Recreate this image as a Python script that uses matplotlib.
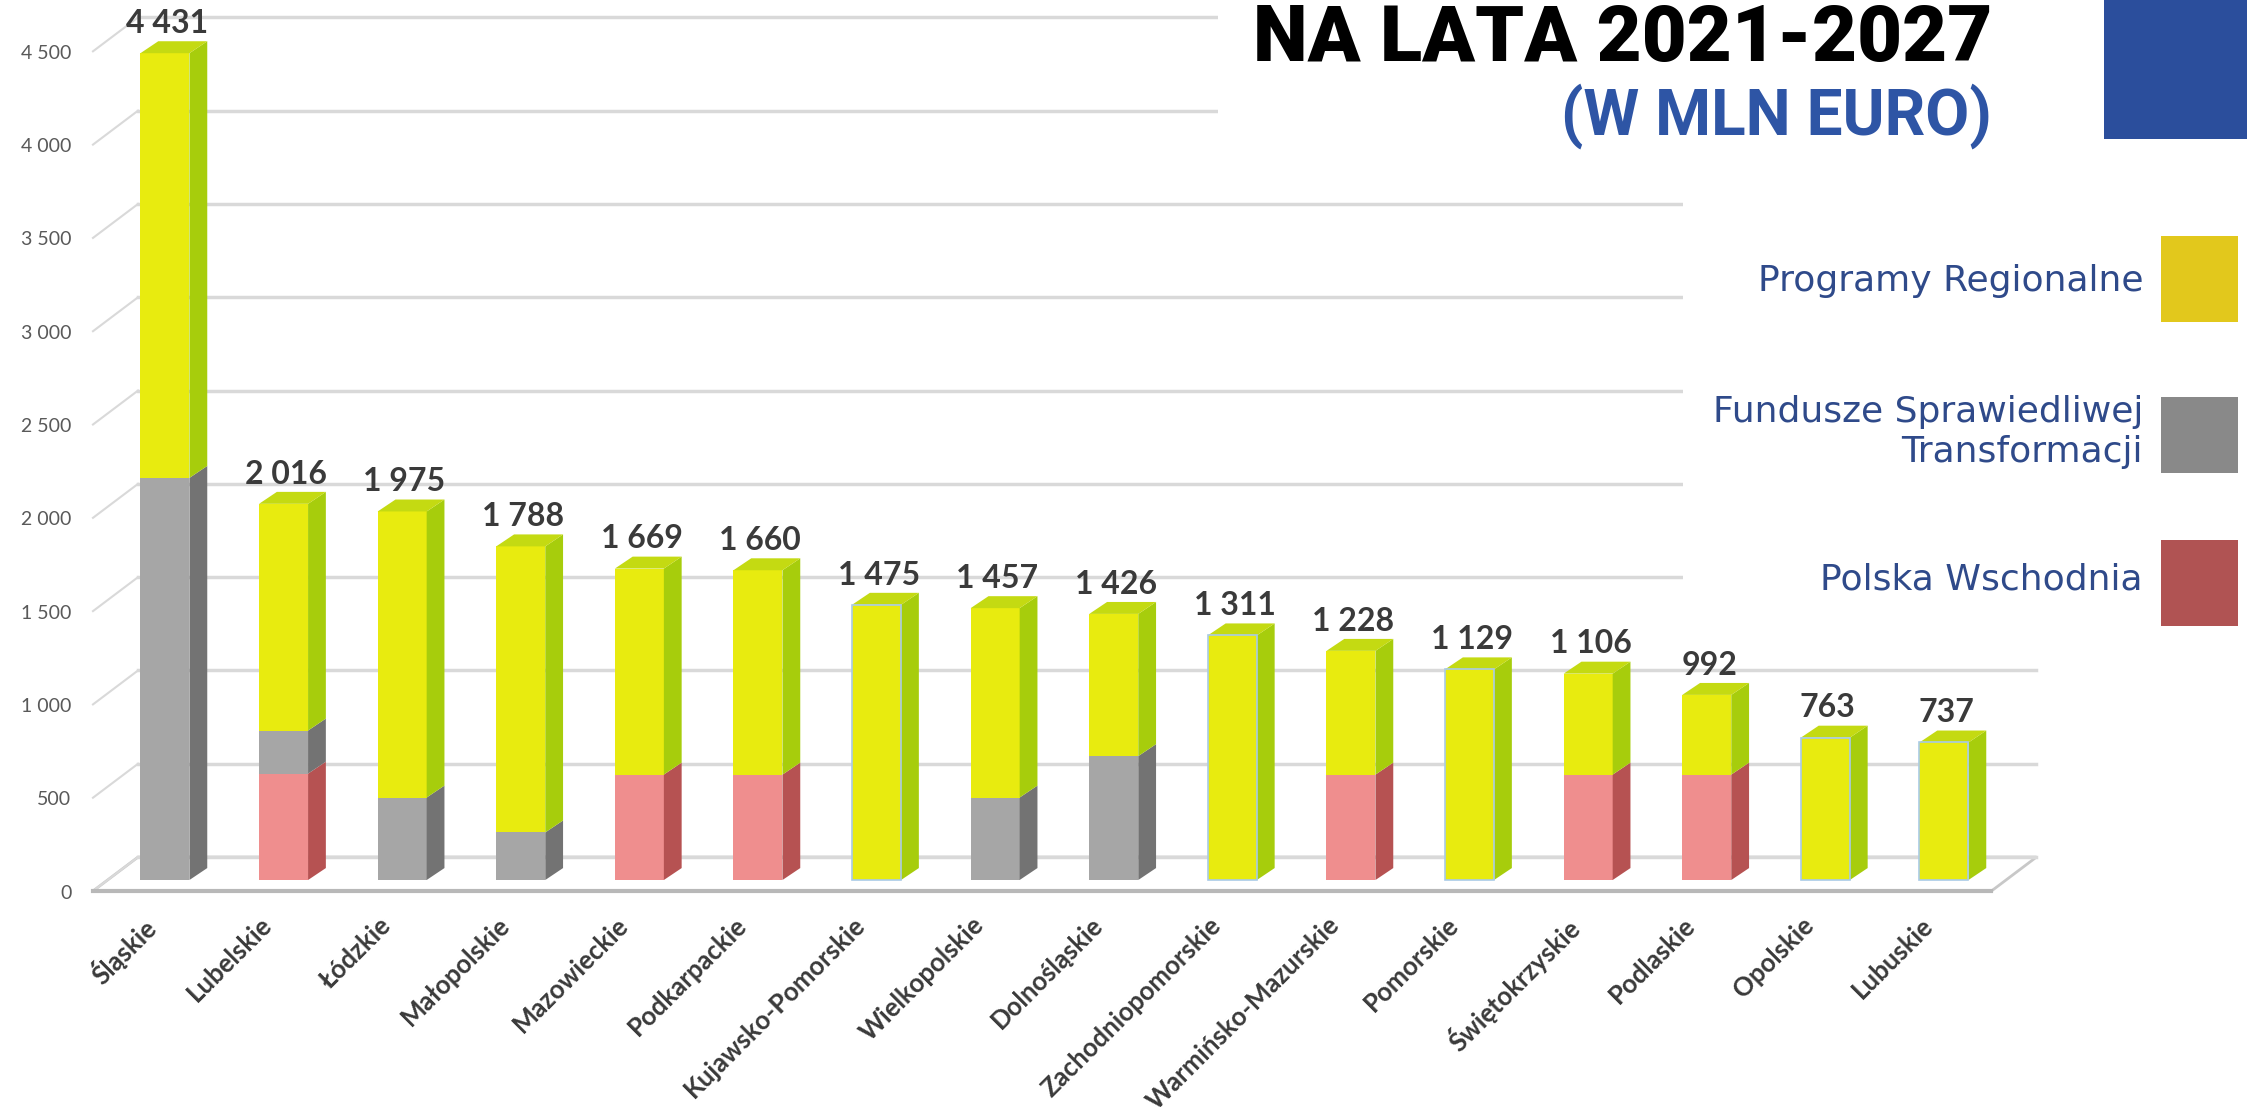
import matplotlib
matplotlib.use('Agg')
import matplotlib.pyplot as plt
from matplotlib.patches import Polygon, Rectangle
import numpy as np

regions = ['Śląskie', 'Lubelskie', 'Łódzkie', 'Małopolskie', 'Mazowieckie', 'Podkarpackie',
           'Kujawsko-Pomorskie', 'Wielkopolskie', 'Dolnośląskie', 'Zachodniopomorskie',
           'Warmińsko-Mazurskie', 'Pomorskie', 'Świętokrzyskie', 'Podlaskie', 'Opolskie', 'Lubuskie']
polska_wschodnia = [0, 570, 0, 0, 565, 565, 0, 0, 0, 0, 565, 0, 565, 565, 0, 0]
fundusze_st = [2155, 231, 442, 255, 0, 0, 0, 442, 664, 0, 0, 0, 0, 0, 0, 0]
regionalne = [2276, 1215, 1533, 1533, 1104, 1095, 1475, 1015, 762, 1311, 663, 1129, 541, 427, 763, 737]
totals = ['4 431', '2 016', '1 975', '1 788', '1 669', '1 660', '1 475', '1 457', '1 426', '1 311',
          '1 228', '1 129', '1 106', '992', '763', '737']
yticks = [0, 500, 1000, 1500, 2000, 2500, 3000, 3500, 4000, 4500]
ytick_labels = ['0', '500', '1 000', '1 500', '2 000', '2 500', '3 000', '3 500', '4 000', '4 500']

legend_names = ['Programy Regionalne', 'Fundusze Sprawiedliwej\nTransformacji', 'Polska Wschodnia']

W, H = 2247, 1107
fig = plt.figure(figsize=(W / 100, H / 100), dpi=100)
fig.patch.set_facecolor('white')
ax = fig.add_axes([0, 0, 1, 1])
ax.set_xlim(-1.391, 17.555)
ax.set_ylim(-1216.5, 4716)
ax.axis('off')

# 3d look: offsets in data units
bw = 0.413          # front face width
dx, dy = 0.15, 64   # bar depth
front_v = -59       # floor front edge
back_v = 123        # floor back edge / back wall base
label_v = -70
left_front = -0.607
right_front = 15.40
wdx = 0.38

grid_c = '#D9D9D9'
# floor
floor = Polygon([(left_front, front_v), (right_front, front_v), (right_front + wdx, back_v),
                 (left_front + wdx, back_v)], closed=True, facecolor='white',
                edgecolor='#C8C8C8', lw=2, zorder=1)
ax.add_patch(floor)
ax.plot([left_front, right_front], [front_v, front_v], color='#B8B8B8', lw=3, zorder=1.5)

# side wall + back wall gridlines
for v, lab in zip(yticks, ytick_labels):
    ax.plot([left_front, left_front + wdx], [v + front_v, v + back_v], color=grid_c, lw=1.5, zorder=1)
    ax.plot([left_front + wdx, right_front + wdx], [v + back_v, v + back_v], color=grid_c, lw=2.5, zorder=1)
    ax.text(-0.79, v + label_v, lab, ha='right', va='center',
            fontsize=14, family='Lato', color='#595959')

x = np.arange(len(regions))
series = [
    (polska_wschodnia, '#EF8E8E', '#B65252'),
    (fundusze_st, '#A6A6A6', '#737373'),
    (regionalne, '#E8EB0F', '#A7CD0C'),
]
bottom = np.zeros(len(regions))
for vals, c_front, c_side in series:
    vals = np.array(vals, dtype=float)
    ax.bar(x, vals, bottom=bottom, width=bw, color=c_front, zorder=3, linewidth=0)
    for i in range(len(regions)):
        if vals[i] <= 0:
            continue
        b, t = bottom[i], bottom[i] + vals[i]
        r = x[i] + bw / 2
        side = Polygon([(r, b), (r + dx, b + dy), (r + dx, t + dy), (r, t)], closed=True,
                       facecolor=c_side, edgecolor='none', zorder=3)
        ax.add_patch(side)
    bottom = bottom + vals

# bars with only the regional part get the thin bluish outline
for i in range(len(regions)):
    if polska_wschodnia[i] == 0 and fundusze_st[i] == 0:
        ax.add_patch(Rectangle((x[i] - bw / 2, 0), bw, regionalne[i], facecolor='none',
                               edgecolor='#A9CBE6', lw=1.2, zorder=3.5))

# top faces, totals and category labels
for i in range(len(regions)):
    t = bottom[i]
    l, r = x[i] - bw / 2, x[i] + bw / 2
    top = Polygon([(l, t), (l + dx, t + dy), (r + dx, t + dy), (r, t)], closed=True,
                  facecolor='#C4DA12', edgecolor='none', zorder=3)
    ax.add_patch(top)
    ax.text(x[i] + 0.02, t + dy + 95, totals[i], ha='center', va='center', fontsize=23,
            family='Lato', fontweight='bold', color='#3A3A3A', zorder=5)
    ax.text(x[i] - 0.20, -175, regions[i], ha='right', va='top', rotation=45,
            rotation_mode='anchor', fontsize=18.5, family='Lato', fontweight='bold',
            color='#3A3A3A', zorder=5)


def fx(px):
    return px / W


def fy(py):
    return 1 - py / H


# white boxes of the slide that hide the grid on the right
fig.patches.append(Rectangle((fx(1218), fy(150)), fx(W - 1218), 150 / H, transform=fig.transFigure,
                             facecolor='white', edgecolor='none', zorder=4))
fig.patches.append(Rectangle((fx(1683), fy(630)), fx(W - 1683), 480 / H, transform=fig.transFigure,
                             facecolor='white', edgecolor='none', zorder=4))

# title
fig.text(fx(1992), fy(40), 'NA LATA 2021-2027', ha='right', va='center', fontsize=56,
         family='Roboto', fontweight='black', color='black', zorder=6)
fig.text(fx(1992), fy(116), '(W MLN EURO)', ha='right', va='center', fontsize=46,
         family='Roboto', fontweight='bold', color='#2E55A5', zorder=6)
fig.patches.append(Rectangle((fx(2104), fy(139)), fx(W - 2104), 139 / H, transform=fig.transFigure,
                             facecolor='#2B4E9C', edgecolor='none', zorder=6))

# legend
leg_colors = ['#E2C81C', '#898989', '#B05353']
leg_sw = [(236, 322), (397, 473), (540, 626)]
leg_text_y = [281, 432, 580]
for name, c, (y0, y1), ty in zip(legend_names, leg_colors, leg_sw, leg_text_y):
    fig.patches.append(Rectangle((fx(2161), fy(y1)), fx(2238 - 2161), (y1 - y0) / H,
                                 transform=fig.transFigure, facecolor=c, edgecolor='none', zorder=6))
    fig.text(fx(2143), fy(ty), name, ha='right', va='center', fontsize=26, family='DejaVu Sans',
             color='#2F4A8A', linespacing=1.25, multialignment='right', zorder=6)

fig.savefig('out.png', dpi=100, facecolor='white')
